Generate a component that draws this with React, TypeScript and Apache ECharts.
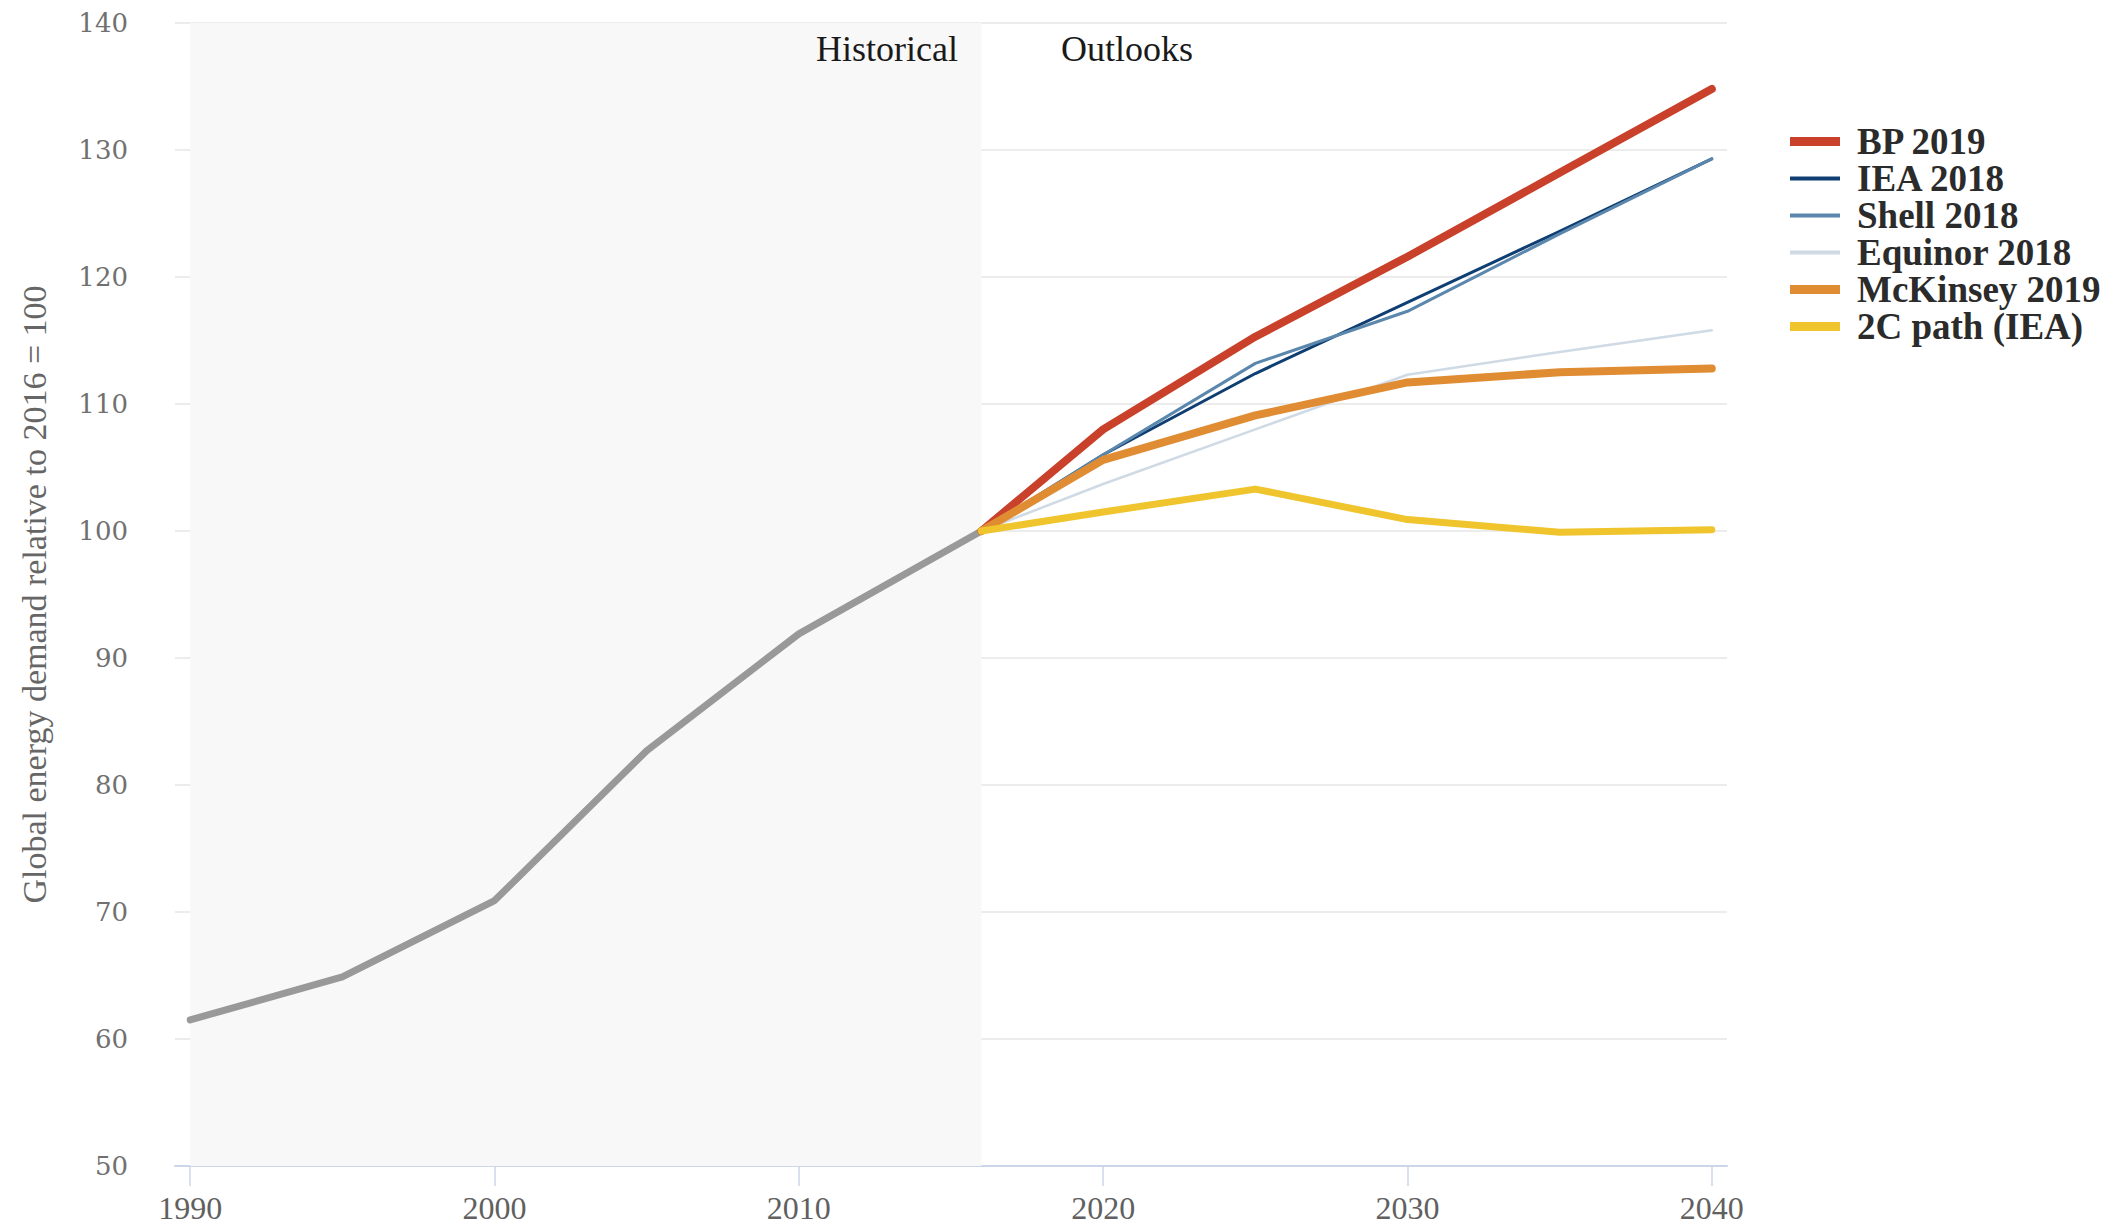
import React, { useEffect, useRef } from "react";
import * as echarts from "echarts";

const histYears = [1990, 1995, 2000, 2005, 2010, 2016];
const historical = [61.5, 64.9, 70.9, 82.7, 91.9, 100];

const outYears = [2016, 2020, 2025, 2030, 2035, 2040];
const bp2019 = [100, 108, 115.3, 121.6, 128.2, 134.8];
const iea2018 = [100, 106, 112.4, 118.0, 123.6, 129.3];
const shell2018 = [100, 106, 113.2, 117.3, 123.4, 129.3];
const equinor2018 = [100, 103.7, 108, 112.3, 114.1, 115.8];
const mckinsey2019 = [100, 105.6, 109.1, 111.7, 112.5, 112.8];
const twoCPath = [100, 101.5, 103.3, 100.9, 99.9, 100.1];

const xTicks = [1990, 2000, 2010, 2020, 2030, 2040];
const seriesNames = ["BP 2019", "IEA 2018", "Shell 2018", "Equinor 2018", "McKinsey 2019", "2C path (IEA)"];
const seriesValues = [bp2019, iea2018, shell2018, equinor2018, mckinsey2019, twoCPath];
const seriesColors = ["#c9412a", "#0f3f72", "#5b87ad", "#cfdae4", "#e08c33", "#efc42c"];
const seriesWidths = [8, 3, 3, 2.5, 8, 7];
const legendIconHeights = [9, 4, 4, 4, 9, 9];

const pair = (xs: number[], ys: number[]) => xs.map((x, i) => [x, ys[i]]);

export default function App() {
  const ref = useRef<HTMLDivElement>(null);
  useEffect(() => {
    if (!ref.current) return;
    const chart = echarts.init(ref.current, undefined, { renderer: "svg" });
    const outlook = seriesNames.map((name, i) => ({
      name,
      type: "line",
      data: pair(outYears, seriesValues[i]),
      symbol: "none",
      showSymbol: false,
      lineStyle: { color: seriesColors[i], width: seriesWidths[i], cap: "round", join: "round" },
      itemStyle: { color: seriesColors[i] },
      z: 3 + i,
    }));
    chart.setOption({
      animation: false,
      backgroundColor: "#ffffff",
      grid: { left: 175, right: 388, top: 23, bottom: 60, containLabel: false },
      xAxis: {
        type: "value",
        min: 1989.5,
        max: 2040.5,
        axisLine: { show: true, lineStyle: { color: "#ccd6eb", width: 2 } },
        axisTick: { show: true, length: 20, customValues: xTicks, lineStyle: { color: "#ccd6eb", width: 1.5 } },
        axisLabel: {
          customValues: xTicks,
          margin: 26,
          color: "#606060",
          fontFamily: "Liberation Serif",
          fontSize: 32,
          formatter: (v: number) => String(v),
        },
        splitLine: { show: false },
      },
      yAxis: {
        type: "value",
        min: 50,
        max: 140,
        interval: 10,
        name: "Global energy demand relative to 2016 = 100",
        nameLocation: "middle",
        nameGap: 124,
        nameTextStyle: { color: "#666666", fontFamily: "Liberation Serif", fontSize: 34 },
        axisLine: { show: false },
        axisTick: { show: false },
        axisLabel: { margin: 47, color: "#707070", fontFamily: "DejaVu Serif", fontSize: 26 },
        splitLine: { show: true, lineStyle: { color: "#e6e6e6", width: 1.5 } },
      },
      legend: {
        orient: "vertical",
        left: 1790,
        top: 123,
        padding: 0,
        itemWidth: 50,
        itemHeight: 14,
        itemGap: 0,
        data: seriesNames.map((name, i) => ({
          name,
          icon: `path://M0 0H50V${legendIconHeights[i]}H0Z`,
          itemStyle: { color: seriesColors[i] },
        })),
        textStyle: {
          color: "#2b2b2b",
          fontFamily: "Liberation Serif",
          fontWeight: "bold",
          fontSize: 37,
          lineHeight: 37,
          padding: [0, 0, 0, 12],
        },
      },
      graphic: [
        {
          type: "text",
          x: 887,
          y: 49,
          style: {
            text: "Historical",
            fill: "#1a1a1a",
            font: "36px 'Liberation Serif'",
            textAlign: "center",
            textVerticalAlign: "middle",
          },
          z: 20,
        },
        {
          type: "text",
          x: 1127,
          y: 49,
          style: {
            text: "Outlooks",
            fill: "#1a1a1a",
            font: "36px 'Liberation Serif'",
            textAlign: "center",
            textVerticalAlign: "middle",
          },
          z: 20,
        },
      ],
      series: [
        {
          name: "Historical",
          type: "line",
          data: pair(histYears, historical),
          symbol: "none",
          showSymbol: false,
          lineStyle: { color: "#999999", width: 7, cap: "round", join: "round" },
          itemStyle: { color: "#999999" },
          z: 2,
          markArea: {
            silent: true,
            itemStyle: { color: "#f8f8f8" },
            data: [[{ xAxis: histYears[0] }, { xAxis: histYears[histYears.length - 1] }]],
          },
        },
        ...outlook,
      ],
    });
    return () => chart.dispose();
  }, []);
  return (
    <div
      ref={ref}
      style={{ position: "fixed", left: 0, top: 0, width: 2115, height: 1226 }}
    />
  );
}
